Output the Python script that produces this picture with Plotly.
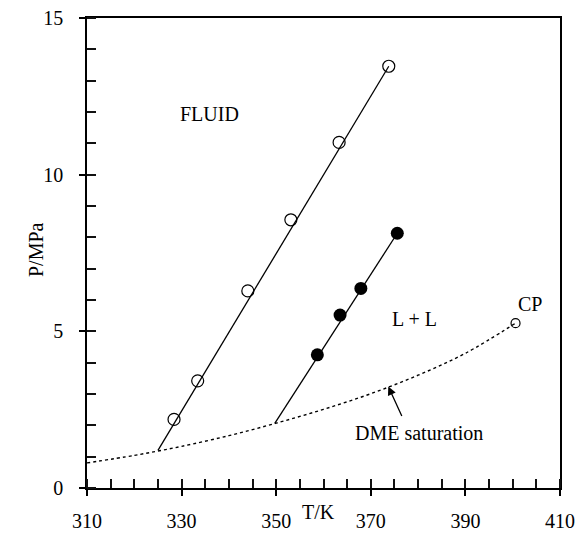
import plotly.graph_objects as go

# Open circles (FLUID boundary)
open_T = [328.4, 333.4, 344.0, 353.1, 363.3, 373.8]
open_P = [2.19, 3.42, 6.29, 8.56, 11.03, 13.46]
open_line_T = [325.0, 373.8]
open_line_P = [1.20, 13.46]

# Filled circles (L + L boundary)
fill_T = [358.7, 363.5, 367.9, 375.6]
fill_P = [4.25, 5.52, 6.37, 8.13]
fill_line_T = [349.7, 375.6]
fill_line_P = [2.06, 8.13]

# DME saturation curve
sat_T = [310, 320, 325, 330, 340, 350, 360, 370, 380, 390, 400.6]
sat_P = [0.80, 1.04, 1.18, 1.33, 1.67, 2.07, 2.51, 3.01, 3.60, 4.30, 5.26]

cp_T = [400.6]
cp_P = [5.26]

FONT = "Liberation Serif"

W, H = 575, 533
L, R, T, B = 87, 15, 18, 45
PW, PH = W - L - R, H - T - B

fig = go.Figure()
fig.add_trace(go.Scatter(x=sat_T, y=sat_P, mode="lines", line_shape="spline",
                         line=dict(color="black", width=1.4, dash="dot"), showlegend=False))
fig.add_trace(go.Scatter(x=open_line_T, y=open_line_P, mode="lines",
                         line=dict(color="black", width=1.3), showlegend=False))
fig.add_trace(go.Scatter(x=fill_line_T, y=fill_line_P, mode="lines",
                         line=dict(color="black", width=1.3), showlegend=False))
fig.add_trace(go.Scatter(x=open_T, y=open_P, mode="markers",
                         marker=dict(symbol="circle-open", size=12, color="black",
                                     line=dict(width=1.2, color="black")), showlegend=False))
fig.add_trace(go.Scatter(x=fill_T, y=fill_P, mode="markers",
                         marker=dict(symbol="circle", size=13, color="black"), showlegend=False))
fig.add_trace(go.Scatter(x=cp_T, y=cp_P, mode="markers",
                         marker=dict(symbol="circle-open", size=9, color="black",
                                     line=dict(width=1.2, color="black")), showlegend=False))

axis_common = dict(showgrid=False, zeroline=False, showline=True, linecolor="black",
                   linewidth=1.5, mirror=True, ticks="outside", ticklen=6, tickwidth=1.5,
                   tickcolor="black", automargin=False,
                   tickfont=dict(family=FONT, size=20, color="black"))

fig.update_layout(
    width=W, height=H,
    margin=dict(l=L, r=R, t=T, b=B),
    plot_bgcolor="white", paper_bgcolor="white",
    font=dict(family=FONT, size=20, color="black"),
    xaxis=dict(range=[310, 410], tick0=310, dtick=20, ticklabelstandoff=8,
               minor=dict(tick0=310, dtick=5, ticks="inside", ticklen=9,
                          tickcolor="#111111", tickwidth=1.6),
               **axis_common),
    yaxis=dict(range=[0, 15], tick0=0, dtick=5, ticklabelstandoff=12,
               minor=dict(tick0=0, dtick=1, ticks="inside", ticklen=9,
                          tickcolor="#111111", tickwidth=1.6),
               **axis_common),
    annotations=[
        dict(x=335.8, y=11.94, xref="x", yref="y", text="FLUID", showarrow=False,
             font=dict(family=FONT, size=20)),
        dict(x=379.3, y=5.39, xref="x", yref="y", text="L + L", showarrow=False,
             font=dict(family=FONT, size=20)),
        dict(x=403.6, y=5.87, xref="x", yref="y", text="CP", showarrow=False,
             font=dict(family=FONT, size=20)),
        dict(x=380.2, y=1.77, xref="x", yref="y", text="DME saturation", showarrow=False,
             font=dict(family=FONT, size=20)),
        dict(x=373.7, y=3.24, ax=376.7, ay=2.25, xref="x", yref="y", axref="x", ayref="y",
             text="", showarrow=True, arrowhead=2, arrowsize=1.3, arrowwidth=1.3,
             arrowcolor="black"),
        dict(x=(318 - L) / PW, y=(H - B - 525) / PH, xref="paper", yref="paper",
             text="T/K", showarrow=False, font=dict(family=FONT, size=20)),
        dict(x=(23 - L) / PW, y=(H - B - 250) / PH, xref="paper", yref="paper",
             text="P/MPa", textangle=-90, showarrow=False, font=dict(family=FONT, size=20)),
    ],
)

fig.write_html("out.html")
